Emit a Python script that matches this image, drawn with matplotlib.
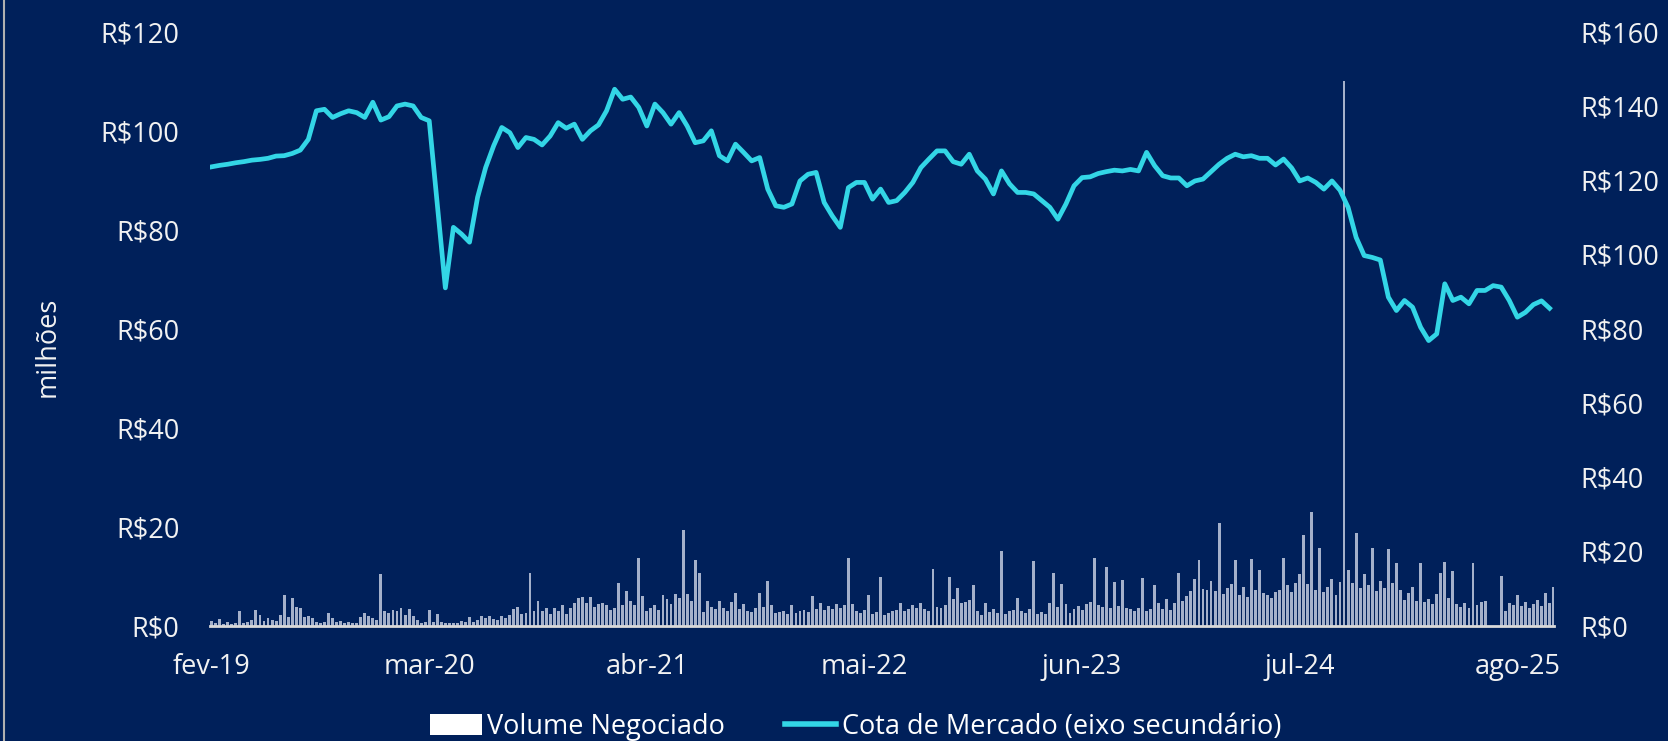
import matplotlib
matplotlib.use("Agg")
import matplotlib.pyplot as plt
from matplotlib.patches import Patch
from matplotlib.lines import Line2D
import numpy as np

# cota de mercado (R$, eixo secundario), amostrada ao longo do periodo
cota = [123.6, 124.0, 124.3, 124.7, 125.0, 125.4, 125.6, 125.9, 126.5, 126.6,
        127.2, 128.1, 131.0, 138.7, 139.1, 136.9, 137.9, 138.7, 138.2, 136.9,
        141.0, 136.2, 137.1, 140.0, 140.5, 140.0, 136.9, 136.0, 113.6, 91.0,
        107.3, 105.5, 103.3, 115.4, 123.4, 129.3, 134.2, 132.8, 128.8, 131.5,
        131.0, 129.5, 131.9, 135.5, 134.0, 135.1, 131.0, 133.3, 134.9, 138.7,
        144.5, 141.8, 142.4, 139.6, 134.6, 140.5, 138.2, 135.1, 138.2, 134.6,
        130.1, 130.6, 133.3, 126.6, 125.2, 129.7, 127.5, 125.2, 126.1, 117.6,
        113.1, 112.7, 113.6, 119.8, 121.6, 122.1, 114.0, 110.4, 107.3, 118.0,
        119.4, 119.4, 114.9, 117.6, 114.0, 114.5, 116.7, 119.4, 123.4, 125.7,
        127.9, 127.9, 125.0, 124.3, 127.0, 122.5, 120.3, 116.3, 122.5, 119.0,
        116.7, 116.7, 116.3, 114.5, 112.7, 109.5, 113.6, 118.5, 120.7, 120.9,
        121.8, 122.3, 122.7, 122.5, 122.9, 122.5, 127.5, 123.9, 121.2, 120.6,
        120.6, 118.5, 119.8, 120.3, 122.3, 124.3, 125.9, 127.0, 126.3, 126.6,
        125.9, 125.9, 124.1, 125.7, 123.3, 119.8, 120.6, 119.4, 117.6, 119.8,
        117.3, 112.7, 104.6, 99.7, 99.2, 98.5, 88.5, 84.9, 87.6, 85.8,
        80.4, 76.8, 78.6, 92.1, 87.6, 88.5, 86.7, 90.3, 90.3, 91.6,
        91.2, 87.6, 83.1, 84.4, 86.5, 87.5, 85.5]

# volume negociado (R$ milhoes), duas barras por ponto da cota
volume = [0.9, 0.5, 1.4, 0.4, 0.7, 0.3, 0.6, 3.0, 0.6, 0.8,
          1.2, 3.2, 2.2, 1.0, 1.5, 1.2, 0.9, 2.2, 6.2, 1.8,
          5.5, 3.8, 3.6, 1.8, 2.0, 1.6, 0.7, 0.5, 0.8, 2.6,
          1.5, 0.7, 1.0, 0.6, 0.8, 0.5, 0.6, 1.8, 2.5, 2.0,
          1.5, 1.2, 10.4, 3.0, 2.5, 3.2, 3.0, 3.6, 2.2, 3.4,
          2.0, 1.2, 0.6, 0.7, 3.2, 0.8, 2.4, 0.7, 0.6, 0.5,
          0.5, 0.6, 1.0, 0.8, 1.8, 0.8, 1.2, 2.0, 1.6, 2.0,
          1.4, 1.2, 2.0, 1.6, 2.2, 3.4, 3.8, 2.4, 2.6, 10.6,
          3.0, 5.0, 3.0, 3.6, 2.4, 3.6, 3.0, 4.2, 2.4, 3.6,
          4.6, 5.6, 5.8, 4.6, 5.8, 3.8, 4.4, 4.6, 4.2, 3.2,
          3.6, 8.7, 4.2, 7.0, 5.0, 4.2, 13.6, 6.0, 3.0, 3.6,
          4.2, 3.2, 6.2, 5.4, 4.4, 6.4, 5.6, 19.4, 6.4, 5.0,
          13.2, 10.6, 2.8, 5.0, 3.8, 3.4, 5.0, 3.6, 3.0, 4.8,
          6.7, 3.4, 4.4, 3.0, 2.8, 3.6, 6.7, 3.8, 9.0, 4.2,
          2.6, 2.8, 3.0, 2.4, 4.2, 2.6, 3.0, 3.2, 2.8, 5.9,
          3.4, 4.6, 3.2, 4.0, 3.4, 4.4, 3.6, 4.2, 13.7, 4.4,
          3.0, 2.6, 3.2, 6.2, 2.4, 2.8, 9.8, 2.2, 2.6, 3.0,
          3.2, 4.6, 3.0, 3.4, 4.2, 3.6, 4.6, 3.4, 3.0, 11.5,
          3.8, 3.6, 4.2, 9.9, 5.4, 7.7, 4.6, 4.8, 5.2, 8.2,
          3.0, 2.2, 4.6, 2.8, 3.4, 2.6, 15.1, 2.4, 3.0, 3.2,
          5.6, 3.0, 2.6, 3.4, 13.0, 2.4, 2.8, 2.4, 4.6, 10.6,
          3.8, 8.5, 4.4, 2.6, 3.4, 4.0, 3.2, 4.4, 4.8, 13.6,
          4.2, 3.8, 11.9, 3.6, 8.9, 4.0, 9.2, 3.6, 3.4, 3.0,
          3.6, 9.7, 3.0, 3.4, 8.2, 4.6, 3.4, 5.4, 3.2, 4.6,
          10.6, 5.0, 6.0, 7.0, 9.5, 13.2, 7.4, 7.2, 9.0, 7.0,
          20.8, 6.4, 7.6, 8.4, 13.2, 6.2, 7.8, 5.8, 13.4, 7.2,
          11.2, 6.6, 6.2, 5.6, 6.8, 7.2, 13.6, 8.2, 6.8, 8.6,
          10.4, 18.4, 8.4, 22.9, 7.2, 15.6, 6.8, 7.8, 9.4, 6.2,
          8.8, 110.0, 11.2, 8.6, 18.8, 7.6, 10.4, 8.2, 15.6, 7.0,
          9.0, 7.6, 15.4, 8.6, 12.7, 7.2, 5.2, 6.6, 7.8, 5.0,
          12.7, 4.8, 5.4, 4.4, 6.4, 10.6, 12.9, 5.6, 11.1, 4.4,
          3.8, 4.6, 3.6, 12.6, 4.2, 4.8, 5.0, 0.0, 0.0, 0.0,
          10.1, 3.0, 4.6, 4.2, 6.2, 4.0, 4.8, 3.6, 4.4, 5.2,
          4.0, 6.6, 4.6, 7.9]

tick_labels = ["fev-19", "mar-20", "abr-21", "mai-22", "jun-23", "jul-24", "ago-25"]
tick_step = 27  # pontos da cota entre rotulos

bg = "#00205a"
txt = "#f2f2f2"
cyan = "#33d6e6"
fs = 19.5

plt.rcParams["font.family"] = ["Open Sans", "DejaVu Sans"]
plt.rcParams["font.size"] = fs

fig = plt.figure(figsize=(16.68, 7.41), dpi=100, facecolor=bg)
ax = fig.add_axes([210 / 1668, 1 - 625.7 / 741, 1344 / 1668, 594 / 741])
ax.set_facecolor(bg)

x_cota = np.arange(len(cota))
x_vol = np.arange(len(volume)) / 2.0

ax.bar(x_vol, volume, width=0.36, color="#a4b0ca", linewidth=0, zorder=2)
ax.set_ylim(0, 120)
ax.set_yticks(range(0, 121, 20))
ax.set_yticklabels([f"R${v}" for v in range(0, 121, 20)])
ax.set_xlim(-0.2, 166.55)
ax.set_xticks([i * tick_step for i in range(len(tick_labels))])
ax.set_xticklabels(tick_labels)
ax.tick_params(axis="both", length=0, colors=txt, labelsize=fs)
ax.tick_params(axis="y", pad=22)
ax.tick_params(axis="x", pad=20)
for s in ["top", "left", "right"]:
    ax.spines[s].set_visible(False)
ax.spines["bottom"].set_color("#d9d9d9")
ax.spines["bottom"].set_linewidth(2)
ax.spines["bottom"].set_zorder(3)

ax.set_ylabel("milhões", color=txt, fontsize=fs)
ax.yaxis.set_label_coords(-0.1205, 0.47)
ax.yaxis.label.set_va("center")

ax2 = ax.twinx()
ax2.plot(x_cota, cota, color=cyan, linewidth=3.4, solid_joinstyle="round", zorder=4)
ax2.set_ylim(0, 160)
ax2.set_yticks(range(0, 161, 20))
ax2.set_yticklabels([f"R${v}" for v in range(0, 161, 20)])
ax2.tick_params(axis="y", length=0, colors=txt, labelsize=fs, pad=19)
for s in ax2.spines.values():
    s.set_visible(False)

handles = [Patch(facecolor="white", edgecolor="none"),
           Line2D([0], [0], color=cyan, linewidth=4)]
fig.legend(handles, ["Volume Negociado", "Cota de Mercado (eixo secundário)"],
           loc="center", bbox_to_anchor=(0.513, 0.019), ncol=2, frameon=False,
           labelcolor="white", fontsize=fs, handlelength=1.9, handleheight=0.8,
           handletextpad=0.2, columnspacing=2.2)

fig.add_artist(Line2D([3.5 / 1668, 3.5 / 1668], [0, 1], color="#b0b0b0", linewidth=1.5))

fig.savefig("out.png", dpi=100, facecolor=bg)
